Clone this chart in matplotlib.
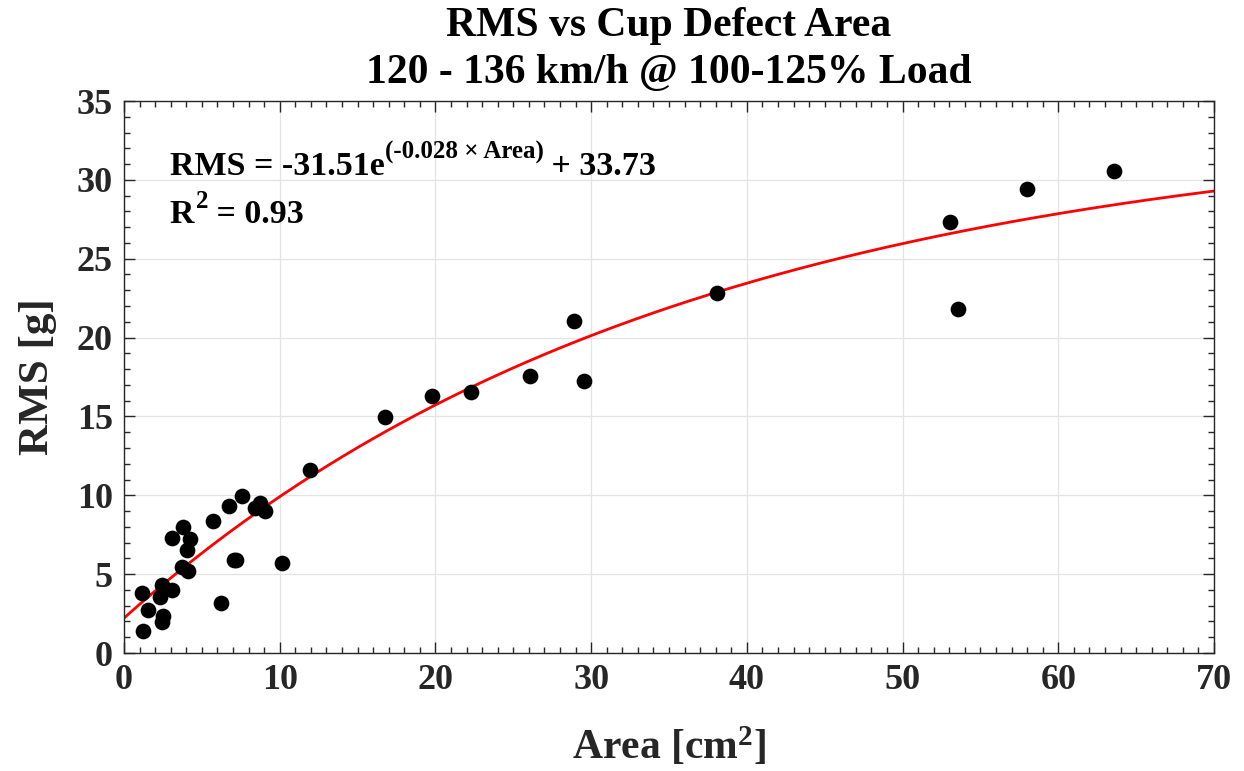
import numpy as np
import matplotlib
matplotlib.use("Agg")
import matplotlib.pyplot as plt
from matplotlib.ticker import MultipleLocator

area = [1.24, 1.56, 1.13, 2.42, 2.53, 2.31, 2.42, 3.06, 3.06, 3.70, 4.13,
        3.81, 4.24, 4.07, 5.69, 6.23, 6.77, 7.05, 7.20, 7.60, 8.41, 8.73,
        9.06, 10.13, 11.93, 16.76, 19.78, 22.28, 26.08, 28.90, 29.54,
        38.08, 53.05, 53.56, 57.99, 63.58]
rms = [1.41, 2.73, 3.78, 1.99, 2.35, 3.57, 4.31, 3.99, 7.27, 5.43, 5.22,
       7.97, 7.21, 6.53, 8.39, 3.15, 9.34, 5.90, 5.88, 9.97, 9.17, 9.49,
       9.02, 5.69, 11.60, 14.96, 16.30, 16.55, 17.56, 21.05, 17.25,
       22.83, 27.33, 21.81, 29.42, 30.56]

fit_a, fit_b, fit_c = -31.51, -0.028, 33.73

plt.rcParams['font.family'] = ['Liberation Serif', 'DejaVu Serif']
plt.rcParams['font.weight'] = 'bold'
plt.rcParams['mathtext.fontset'] = 'custom'
plt.rcParams['mathtext.rm'] = 'Liberation Serif:bold'
plt.rcParams['mathtext.it'] = 'Liberation Serif:bold'
plt.rcParams['mathtext.bf'] = 'Liberation Serif:bold'

fig = plt.figure(figsize=(12.44, 7.71), dpi=100)
ax = fig.add_axes([0.0997, 0.153, 0.8762, 0.716])

xf = np.linspace(0, 70, 300)
ax.plot(xf, fit_a * np.exp(fit_b * xf) + fit_c, color='#ff0000', lw=2, zorder=2)
ax.scatter(area, rms, s=128, color='black', zorder=3, linewidths=0)

ax.set_xlim(0, 70)
ax.set_ylim(0, 35)
ax.xaxis.set_major_locator(MultipleLocator(10))
ax.xaxis.set_minor_locator(MultipleLocator(1))
ax.yaxis.set_major_locator(MultipleLocator(5))
ax.yaxis.set_minor_locator(MultipleLocator(1))
ax.tick_params(which='both', direction='in', top=True, right=True,
               labelsize=26, colors='#262626', width=1)
ax.tick_params(which='major', length=8)
ax.tick_params(which='minor', length=4)
ax.tick_params(axis='x', pad=8)
ax.tick_params(axis='y', pad=8)
for lab in ax.get_xticklabels() + ax.get_yticklabels():
    lab.set_fontweight('bold')
ax.grid(True, which='major', color='#e3e3e3', lw=0.9, zorder=0)
ax.set_axisbelow(True)
for sp in ax.spines.values():
    sp.set_color('#262626')
    sp.set_linewidth(1)

ax.set_xlabel('Area [cm$^2$]', fontsize=30, fontweight='bold', color='#262626', labelpad=20)
ax.set_ylabel('RMS [g]', fontsize=31, fontweight='bold', color='#262626', labelpad=14)
ax.set_title('RMS vs Cup Defect Area\n120 - 136 km/h @ 100-125% Load',
             fontsize=30, fontweight='bold', color='black', pad=13, linespacing=1.32)

# equation, built from pieces so the exponent can be sized like the original
t1 = ax.text(0.042, 0.853, 'RMS = -31.51e', transform=ax.transAxes,
             fontsize=24.5, fontweight='bold', color='black', va='bottom')
t2 = ax.annotate('(-0.028 \u00d7 Area)', xy=(1.0, 0.6), xycoords=t1,
                 fontsize=18, fontweight='bold', color='black', va='bottom', ha='left')
ax.annotate(' + 33.73', xy=(1.0, 0.0), xycoords=(t2, t1),
            fontsize=24.5, fontweight='bold', color='black', va='bottom', ha='left')

r1 = ax.text(0.042, 0.766, 'R', transform=ax.transAxes,
             fontsize=24.5, fontweight='bold', color='black', va='bottom')
r2 = ax.annotate('2', xy=(1.0, 0.55), xycoords=r1, xytext=(1, 0),
                 textcoords='offset points',
                 fontsize=18, fontweight='bold', color='black', va='bottom', ha='left')
ax.annotate(' = 0.93', xy=(1.0, 0.0), xycoords=(r2, r1),
            fontsize=24.5, fontweight='bold', color='black', va='bottom', ha='left')

fig.savefig('out.png', dpi=100)
